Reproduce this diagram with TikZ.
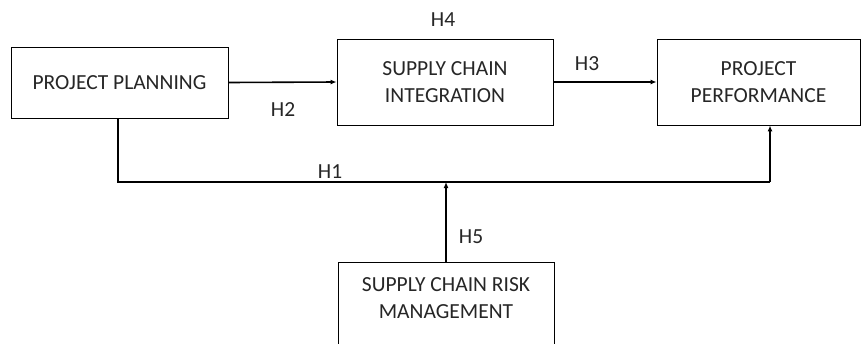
\documentclass[tikz,border=0pt]{standalone}
\usepackage{fontspec}
\setmainfont{Carlito}
\usetikzlibrary{arrows.meta}
\begin{document}
\begin{tikzpicture}[x=1pt,y=-1pt,
  box/.style={draw=black,line width=0.9pt,fill=white,align=center,text=black!85,font=\fontsize{21.5}{27}\selectfont,inner sep=0pt},
  conn/.style={line width=1.6pt,-{Latex[length=6pt,width=5pt]}},
  lbl/.style={text=black!85,font=\fontsize{21.5}{27}\selectfont,inner sep=0pt,align=center}]
\useasboundingbox (0,0) rectangle (861,343);
\node[box,minimum width=217pt,minimum height=71pt] (pp) at (119.5,82.5) {PROJECT PLANNING};
\node[box,minimum width=216pt,minimum height=86pt] (sci) at (445,82) {SUPPLY CHAIN\\INTEGRATION};
\node[box,minimum width=203pt,minimum height=86pt] (perf) at (758.5,82) {PROJECT\\PERFORMANCE};
\node[box,minimum width=216pt,minimum height=100pt,anchor=north] (scrm) at (446,262) {};
\node[lbl] (scrmtext) at (446,298) {SUPPLY CHAIN RISK\\MANAGEMENT};
\coordinate (j1) at (118,182);
\coordinate (j2) at (770,182);
\coordinate (j3) at (446,182);
\draw[conn] (pp.east) -- (sci.west);
\draw[conn] (sci.east) -- (perf.west);
\draw[line width=1.6pt] (pp.south -| j1) -- (j1) -- (j2);
\draw[conn] (j2) -- (j2 |- perf.south);
\draw[conn] (scrm.north) -- (j3);
\node[lbl] (h1) at (330,172) {H1};
\node[lbl] (h2) at (283,110) {H2};
\node[lbl] (h3) at (587,64) {H3};
\node[lbl] (h4) at (443,20) {H4};
\node[lbl] (h5) at (471,237) {H5};
\end{tikzpicture}
\end{document}
